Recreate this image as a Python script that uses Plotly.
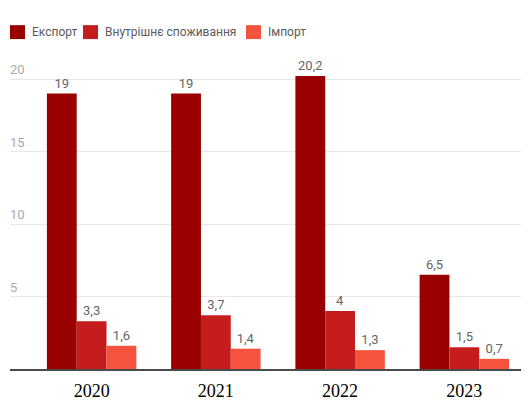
import plotly.graph_objects as go

years = ["2020", "2021", "2022", "2023"]
export = [19, 19, 20.2, 6.5]
domestic = [3.3, 3.7, 4, 1.5]
imports = [1.6, 1.4, 1.3, 0.7]
series_names = ["Експорт", "Внутрішнє споживання", "Імпорт"]
colors = ["#990000", "#c51d1d", "#f6533f"]

def fmt(v):
    return ("%g" % v).replace(".", ",")

fig = go.Figure()
for name, vals, col in zip(series_names, [export, domestic, imports], colors):
    fig.add_trace(go.Bar(
        x=years, y=vals, name=name, marker=dict(color=col, line=dict(width=0)),
        text=[fmt(v) for v in vals], textposition="outside", cliponaxis=False,
        textfont=dict(family="Roboto", size=13, color="#666666"),
        showlegend=False,
    ))

# Manual legend (page-pixel layout converted to paper coordinates)
PL, PR, PT, PB = 10, 521, 50, 371
def fx(px):
    return (px - PL) / (PR - PL)
def fy(py):
    return (PB - py) / (PB - PT)

legend_sq_x = [10, 83, 246]
for name, col, sx in zip(series_names, colors, legend_sq_x):
    fig.add_shape(type="rect", xref="paper", yref="paper",
                  x0=fx(sx), x1=fx(sx + 15), y0=fy(39), y1=fy(25),
                  fillcolor=col, line=dict(width=0))
    fig.add_annotation(xref="paper", yref="paper", x=fx(sx + 20), y=fy(32),
                       text=name, showarrow=False, xanchor="left", yanchor="middle",
                       font=dict(family="Roboto", size=12, color="#5a5a5a"))

fig.update_layout(
    width=523, height=395,
    margin=dict(l=2, r=10, t=42, b=32),
    barmode="group", bargap=0.28, bargroupgap=0,
    plot_bgcolor="white", paper_bgcolor="white",
    showlegend=False,
    xaxis=dict(type="category", range=[-0.657, 3.456], showgrid=False,
               showline=True, linecolor="#4a4a4a", linewidth=1.5,
               ticks="", ticklabelstandoff=5,
               tickfont=dict(family="Liberation Serif", size=18, color="#000000")),
    yaxis=dict(range=[0, 22], tickvals=[5, 10, 15, 20], ticktext=["5", "10", "15", "20"],
               showgrid=True, gridcolor="#e8e8e8", gridwidth=1, zeroline=False,
               ticklabelposition="inside top", ticks="", ticklabelstandoff=-3,
               tickfont=dict(family="Roboto", size=13, color="#aaaaaa")),
)
fig.write_html("out.html")
